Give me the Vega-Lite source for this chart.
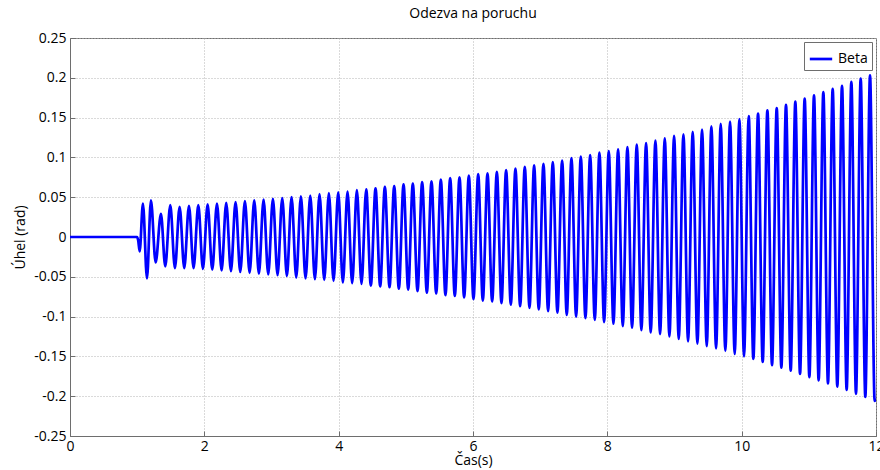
{
  "$schema": "https://vega.github.io/schema/vega-lite/v6.json",
  "autosize": "none",
  "width": 806,
  "height": 398,
  "padding": {"left": 70, "top": 38, "right": 4, "bottom": 34},
  "background": "white",
  "title": {"text": "Odezva na poruchu", "font": "Open Sans", "fontSize": 14, "fontWeight": "normal", "color": "#000000", "offset": 10},
  "config": {
    "view": {"stroke": "#6e6e6e", "strokeWidth": 1},
    "font": "Open Sans"
  },
  "data": {"values": [
    {"t":0,"b":0},{"t":0.997,"b":0},{"t":1.015,"b":-0.004},{"t":1.037,"b":-0.018},{"t":1.086,"b":0.042},{"t":1.146,"b":-0.052},{"t":1.205,"b":0.046},{"t":1.275,"b":-0.032},{"t":1.354,"b":0.029},{"t":1.418,"b":-0.037},
    {"t":1.493,"b":0.040},{"t":1.562,"b":-0.039},
    {"t":1.632,"b":0.038},{"t":1.701,"b":-0.039},
    {"t":1.771,"b":0.039},{"t":1.840,"b":-0.039},
    {"t":1.910,"b":0.040},{"t":1.979,"b":-0.040},
    {"t":2.049,"b":0.041},{"t":2.118,"b":-0.041},
    {"t":2.188,"b":0.042},{"t":2.257,"b":-0.042},
    {"t":2.326,"b":0.043},{"t":2.396,"b":-0.043},
    {"t":2.465,"b":0.044},{"t":2.535,"b":-0.044},
    {"t":2.604,"b":0.045},{"t":2.674,"b":-0.045},
    {"t":2.743,"b":0.046},{"t":2.812,"b":-0.046},
    {"t":2.882,"b":0.047},{"t":2.951,"b":-0.047},
    {"t":3.021,"b":0.048},{"t":3.090,"b":-0.048},
    {"t":3.160,"b":0.049},{"t":3.229,"b":-0.049},
    {"t":3.299,"b":0.050},{"t":3.368,"b":-0.051},
    {"t":3.438,"b":0.051},{"t":3.507,"b":-0.052},
    {"t":3.577,"b":0.052},{"t":3.646,"b":-0.053},
    {"t":3.715,"b":0.054},{"t":3.785,"b":-0.054},
    {"t":3.854,"b":0.055},{"t":3.924,"b":-0.055},
    {"t":3.993,"b":0.056},{"t":4.063,"b":-0.057},
    {"t":4.132,"b":0.057},{"t":4.201,"b":-0.058},
    {"t":4.271,"b":0.059},{"t":4.340,"b":-0.059},
    {"t":4.410,"b":0.060},{"t":4.479,"b":-0.061},
    {"t":4.549,"b":0.061},{"t":4.618,"b":-0.062},
    {"t":4.688,"b":0.063},{"t":4.757,"b":-0.063},
    {"t":4.827,"b":0.064},{"t":4.896,"b":-0.065},
    {"t":4.966,"b":0.066},{"t":5.035,"b":-0.066},
    {"t":5.104,"b":0.067},{"t":5.174,"b":-0.068},
    {"t":5.243,"b":0.069},{"t":5.313,"b":-0.070},
    {"t":5.382,"b":0.070},{"t":5.452,"b":-0.071},
    {"t":5.521,"b":0.072},{"t":5.590,"b":-0.073},
    {"t":5.660,"b":0.074},{"t":5.729,"b":-0.074},
    {"t":5.799,"b":0.075},{"t":5.868,"b":-0.076},
    {"t":5.938,"b":0.077},{"t":6.007,"b":-0.078},
    {"t":6.077,"b":0.079},{"t":6.146,"b":-0.080},
    {"t":6.216,"b":0.080},{"t":6.285,"b":-0.081},
    {"t":6.355,"b":0.082},{"t":6.424,"b":-0.083},
    {"t":6.493,"b":0.084},{"t":6.563,"b":-0.085},
    {"t":6.632,"b":0.086},{"t":6.702,"b":-0.087},
    {"t":6.771,"b":0.088},{"t":6.841,"b":-0.089},
    {"t":6.910,"b":0.090},{"t":6.979,"b":-0.091},
    {"t":7.049,"b":0.092},{"t":7.118,"b":-0.093},
    {"t":7.188,"b":0.094},{"t":7.257,"b":-0.095},
    {"t":7.327,"b":0.096},{"t":7.396,"b":-0.098},
    {"t":7.466,"b":0.099},{"t":7.535,"b":-0.100},
    {"t":7.605,"b":0.101},{"t":7.674,"b":-0.102},
    {"t":7.744,"b":0.103},{"t":7.813,"b":-0.104},
    {"t":7.882,"b":0.106},{"t":7.952,"b":-0.107},
    {"t":8.021,"b":0.108},{"t":8.091,"b":-0.109},
    {"t":8.160,"b":0.110},{"t":8.230,"b":-0.112},
    {"t":8.299,"b":0.113},{"t":8.368,"b":-0.114},
    {"t":8.438,"b":0.116},{"t":8.507,"b":-0.117},
    {"t":8.577,"b":0.118},{"t":8.646,"b":-0.120},
    {"t":8.716,"b":0.121},{"t":8.785,"b":-0.122},
    {"t":8.855,"b":0.124},{"t":8.924,"b":-0.125},
    {"t":8.994,"b":0.127},{"t":9.063,"b":-0.128},
    {"t":9.133,"b":0.129},{"t":9.202,"b":-0.131},
    {"t":9.271,"b":0.132},{"t":9.341,"b":-0.134},
    {"t":9.410,"b":0.135},{"t":9.480,"b":-0.137},
    {"t":9.549,"b":0.139},{"t":9.619,"b":-0.140},
    {"t":9.688,"b":0.142},{"t":9.757,"b":-0.143},
    {"t":9.827,"b":0.145},{"t":9.896,"b":-0.147},
    {"t":9.966,"b":0.148},{"t":10.035,"b":-0.150},
    {"t":10.105,"b":0.152},{"t":10.174,"b":-0.153},
    {"t":10.244,"b":0.155},{"t":10.313,"b":-0.157},
    {"t":10.383,"b":0.159},{"t":10.452,"b":-0.161},
    {"t":10.522,"b":0.162},{"t":10.591,"b":-0.164},
    {"t":10.660,"b":0.166},{"t":10.730,"b":-0.168},
    {"t":10.799,"b":0.170},{"t":10.869,"b":-0.172},
    {"t":10.938,"b":0.174},{"t":11.008,"b":-0.176},
    {"t":11.077,"b":0.178},{"t":11.146,"b":-0.180},
    {"t":11.216,"b":0.182},{"t":11.285,"b":-0.184},
    {"t":11.355,"b":0.186},{"t":11.424,"b":-0.188},
    {"t":11.494,"b":0.190},{"t":11.563,"b":-0.192},
    {"t":11.633,"b":0.195},{"t":11.702,"b":-0.197},
    {"t":11.772,"b":0.199},{"t":11.841,"b":-0.201},
    {"t":11.911,"b":0.203},{"t":11.980,"b":-0.206},
    {"t":12.0,"b":-0.203}
  ]},
  "mark": {"type": "line", "interpolate": "monotone", "strokeWidth": 2.7, "clip": true},
  "encoding": {
    "x": {
      "field": "t", "type": "quantitative",
      "scale": {"domain": [0, 12], "nice": false, "zero": false},
      "axis": {
        "title": "Čas(s)", "values": [0, 2, 4, 6, 8, 10, 12],
        "titleFont": "Open Sans", "titleFontSize": 14, "titleFontWeight": "normal", "titleColor": "#000000", "titlePadding": 0,
        "labelFont": "Open Sans", "labelFontSize": 14, "labelColor": "#000000", "labelPadding": 8, "labelFlush": false,
        "domainColor": "#6e6e6e", "tickColor": "#6e6e6e", "tickSize": -5,
        "grid": true, "gridColor": "#b4b4b4", "gridDash": [1, 2], "gridWidth": 1
      }
    },
    "y": {
      "field": "b", "type": "quantitative",
      "scale": {"domain": [-0.25, 0.25], "nice": false, "zero": false},
      "axis": {
        "title": "Úhel (rad)", "values": [-0.25, -0.2, -0.15, -0.1, -0.05, 0, 0.05, 0.1, 0.15, 0.2, 0.25],
        "labelExpr": "replace(format(datum.value, '.2~f'), '−', '-')",
        "titleFont": "Open Sans", "titleFontSize": 14, "titleFontWeight": "normal", "titleColor": "#000000", "titlePadding": 6,
        "labelFont": "Open Sans", "labelFontSize": 14, "labelColor": "#000000", "labelPadding": 9, "labelFlush": false,
        "domainColor": "#6e6e6e", "tickColor": "#6e6e6e", "tickSize": -5,
        "grid": true, "gridColor": "#b4b4b4", "gridDash": [1, 2], "gridWidth": 1
      }
    },
    "color": {
      "datum": "Beta",
      "scale": {"range": ["#0000ff"]},
      "legend": {
        "title": null, "orient": "top-right", "offset": 4,
        "strokeColor": "#6e6e6e", "fillColor": "white", "padding": 4,
        "labelFont": "Open Sans", "labelFontSize": 14, "labelColor": "#000000",
        "symbolType": "stroke", "symbolSize": 500, "symbolStrokeWidth": 2.7, "symbolStrokeColor": "#0000ff"
      }
    }
  }
}
